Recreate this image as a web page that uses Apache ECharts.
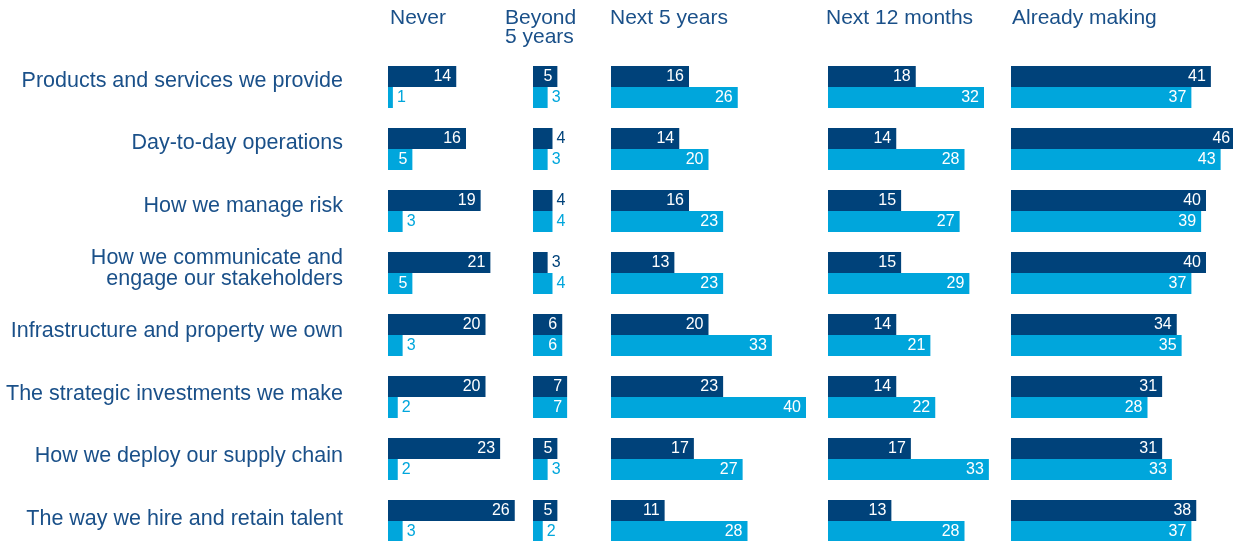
<!DOCTYPE html>
<html><head><meta charset="utf-8">
<script src="https://cdn.jsdelivr.net/npm/echarts@6/dist/echarts.min.js"></script>
<style>html,body{margin:0;padding:0;background:#fff}#c{width:1233px;height:541px}</style>
</head><body><div id="c"></div>
<script>
const categories = [
  'Products and services we provide',
  'Day-to-day operations',
  'How we manage risk',
  'How we communicate and\nengage our stakeholders',
  'Infrastructure and property we own',
  'The strategic investments we make',
  'How we deploy our supply chain',
  'The way we hire and retain talent'
];
const panelTitles = ['Never', 'Beyond\n5 years', 'Next 5 years', 'Next 12 months', 'Already making'];
const neverDark = [14, 16, 19, 21, 20, 20, 23, 26];
const neverLight = [1, 5, 3, 5, 3, 2, 2, 3];
const beyondDark = [5, 4, 4, 3, 6, 7, 5, 5];
const beyondLight = [3, 3, 4, 4, 6, 7, 3, 2];
const next5Dark = [16, 14, 16, 13, 20, 23, 17, 11];
const next5Light = [26, 20, 23, 23, 33, 40, 27, 28];
const next12Dark = [18, 14, 15, 15, 14, 14, 17, 13];
const next12Light = [32, 28, 27, 29, 21, 22, 33, 28];
const alreadyDark = [41, 46, 40, 40, 34, 31, 31, 38];
const alreadyLight = [37, 43, 39, 37, 35, 28, 33, 37];

const panels = [
  [neverDark, neverLight],
  [beyondDark, beyondLight],
  [next5Dark, next5Light],
  [next12Dark, next12Light],
  [alreadyDark, alreadyLight]
];
const DARK = '#00427a';
const LIGHT = '#00a6dc';
const TEXT = '#1a5089';
const FONT = '"Liberation Sans", Arial, Helvetica, sans-serif';
const panelLeft = [388, 533, 611, 828, 1011];
const titleLeft = [390, 505, 610, 826, 1012];
const AXMAX = 40, GRIDW = 195, TOP = 87, HEIGHT = 434;

function items(vals, color) {
  return vals.map(v => ({
    value: v,
    label: v >= 5
      ? { show: true, position: 'insideRight', color: '#fff', distance: 5 }
      : { show: true, position: 'right', color: color, distance: 4 }
  }));
}

const grid = [], xAxis = [], yAxis = [], series = [];
panels.forEach((p, i) => {
  grid.push({ left: panelLeft[i], top: TOP, width: GRIDW, height: HEIGHT, containLabel: false });
  xAxis.push({ gridIndex: i, type: 'value', min: 0, max: AXMAX, show: false });
  yAxis.push({
    gridIndex: i, type: 'category', data: categories, inverse: true, boundaryGap: false,
    show: false
  });
  [[p[0], DARK], [p[1], LIGHT]].forEach(([vals, col]) => {
    series.push({
      type: 'bar', xAxisIndex: i, yAxisIndex: i, barWidth: 21, barGap: '0%', clip: false,
      itemStyle: { color: col },
      label: { fontSize: 16, fontFamily: FONT },
      data: items(vals, col), animation: false, silent: true
    });
  });
});
// label-only axis for the category names
grid.push({ left: 388, top: 81, width: 1, height: 438, containLabel: false });
xAxis.push({ gridIndex: 5, type: 'value', show: false });
yAxis.push({
  gridIndex: 5, type: 'category', data: categories, inverse: true, boundaryGap: false,
  axisLine: { show: false }, axisTick: { show: false }, splitLine: { show: false },
  axisLabel: { show: true, color: TEXT, fontSize: 21.5, fontFamily: FONT, margin: 45, lineHeight: 21, align: 'right' }
});

const graphic = panelTitles.map((t, i) => ({
  type: 'text', left: titleLeft[i], top: 8,
  style: { text: t, fill: TEXT, font: '21px ' + FONT, lineHeight: 19 }
}));

const chart = echarts.init(document.getElementById('c'));
chart.setOption({ animation: false, grid, xAxis, yAxis, series, graphic });
</script></body></html>
